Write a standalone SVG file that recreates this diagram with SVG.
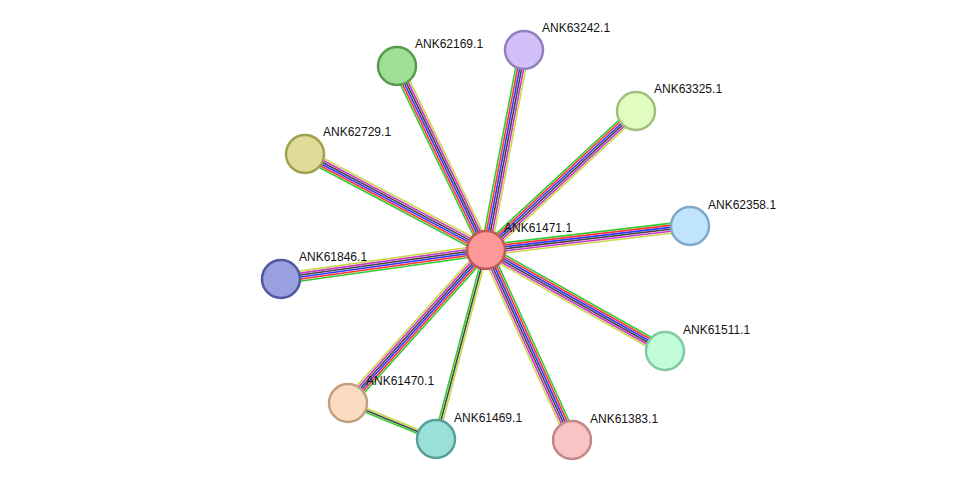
<svg xmlns="http://www.w3.org/2000/svg" width="975" height="486" viewBox="0 0 975 486">
<style>
line{stroke-width:1.6}
.g{stroke:#33cc33}.r{stroke:#ff3333}.b{stroke:#3333ff}.k{stroke:#444}.m{stroke:#cc33cc}.y{stroke:#c8d84a}
circle{stroke-width:2.5}
text{font-family:"Liberation Sans",Arial,sans-serif;font-size:12px;fill:#111}
</style>
<rect width="975" height="486" fill="#fff"/>
<g id="edges">
<g transform="translate(486,250) rotate(-115.8)"><line x2="204" y1="-5" y2="-5" class="g"/><line x2="204" y1="-3" y2="-3" class="r"/><line x2="204" y1="-1" y2="-1" class="b"/><line x2="204" y1="1" y2="1" class="k"/><line x2="204" y1="3" y2="3" class="m"/><line x2="204" y1="5" y2="5" class="y"/></g>
<g transform="translate(486,250) rotate(-79.2)"><line x2="204" y1="-5" y2="-5" class="g"/><line x2="204" y1="-3" y2="-3" class="r"/><line x2="204" y1="-1" y2="-1" class="b"/><line x2="204" y1="1" y2="1" class="k"/><line x2="204" y1="3" y2="3" class="m"/><line x2="204" y1="5" y2="5" class="y"/></g>
<g transform="translate(486,250) rotate(-42.8)"><line x2="205" y1="-5" y2="-5" class="g"/><line x2="205" y1="-3" y2="-3" class="r"/><line x2="205" y1="-1" y2="-1" class="b"/><line x2="205" y1="1" y2="1" class="k"/><line x2="205" y1="3" y2="3" class="m"/><line x2="205" y1="5" y2="5" class="y"/></g>
<g transform="translate(486,250) rotate(-152.1)"><line x2="205" y1="-5" y2="-5" class="g"/><line x2="205" y1="-3" y2="-3" class="r"/><line x2="205" y1="-1" y2="-1" class="b"/><line x2="205" y1="1" y2="1" class="k"/><line x2="205" y1="3" y2="3" class="m"/><line x2="205" y1="5" y2="5" class="y"/></g>
<g transform="translate(486,250) rotate(-6.7)"><line x2="205" y1="-5" y2="-5" class="g"/><line x2="205" y1="-3" y2="-3" class="r"/><line x2="205" y1="-1" y2="-1" class="b"/><line x2="205" y1="1" y2="1" class="k"/><line x2="205" y1="3" y2="3" class="m"/><line x2="205" y1="5" y2="5" class="y"/></g>
<g transform="translate(486,250) rotate(172)"><line x2="207" y1="-5" y2="-5" class="g"/><line x2="207" y1="-3" y2="-3" class="r"/><line x2="207" y1="-1" y2="-1" class="b"/><line x2="207" y1="1" y2="1" class="k"/><line x2="207" y1="3" y2="3" class="m"/><line x2="207" y1="5" y2="5" class="y"/></g>
<g transform="translate(486,250) rotate(29.4)"><line x2="205" y1="-5" y2="-5" class="g"/><line x2="205" y1="-3" y2="-3" class="r"/><line x2="205" y1="-1" y2="-1" class="b"/><line x2="205" y1="1" y2="1" class="k"/><line x2="205" y1="3" y2="3" class="m"/><line x2="205" y1="5" y2="5" class="y"/></g>
<g transform="translate(486,250) rotate(132)"><line x2="206" y1="-5" y2="-5" class="g"/><line x2="206" y1="-3" y2="-3" class="r"/><line x2="206" y1="-1" y2="-1" class="b"/><line x2="206" y1="1" y2="1" class="k"/><line x2="206" y1="3" y2="3" class="m"/><line x2="206" y1="5" y2="5" class="y"/></g>
<g transform="translate(486,250) rotate(104.8)"><line x2="195" y1="-2" y2="-2" class="y"/><line x2="195" y1="0" y2="0" class="k"/><line x2="195" y1="2" y2="2" class="g"/></g>
<g transform="translate(486,250) rotate(65.6)"><line x2="209" y1="-5" y2="-5" class="g"/><line x2="209" y1="-3" y2="-3" class="r"/><line x2="209" y1="-1" y2="-1" class="b"/><line x2="209" y1="1" y2="1" class="k"/><line x2="209" y1="3" y2="3" class="m"/><line x2="209" y1="5" y2="5" class="y"/></g>
<g transform="translate(348,403) rotate(22.2)"><line x2="95" y1="-2" y2="-2" class="y"/><line x2="95" y1="0" y2="0" class="k"/><line x2="95" y1="2" y2="2" class="g"/></g>
</g>
<g id="n62169"><circle cx="397" cy="66" r="19" fill="#a0e095" stroke="#5a9a50"/><text x="415" y="48">ANK62169.1</text></g>
<g id="n63242"><circle cx="524" cy="50" r="19" fill="#d4c0f8" stroke="#9080c0"/><text x="542" y="32">ANK63242.1</text></g>
<g id="n63325"><circle cx="636" cy="111" r="19" fill="#e0fcc0" stroke="#a0c080"/><text x="654" y="93">ANK63325.1</text></g>
<g id="n62729"><circle cx="305" cy="154" r="19" fill="#e0dc98" stroke="#a0a050"/><text x="323" y="136">ANK62729.1</text></g>
<g id="n62358"><circle cx="690" cy="226" r="19" fill="#c0e4fc" stroke="#80a8c8"/><text x="708" y="209">ANK62358.1</text></g>
<g id="n61846"><circle cx="281" cy="279" r="19" fill="#98a0e0" stroke="#5058a0"/><text x="299" y="261">ANK61846.1</text></g>
<g id="n61511"><circle cx="665" cy="351" r="19" fill="#c0fcd8" stroke="#80c8a0"/><text x="683" y="334">ANK61511.1</text></g>
<g id="n61470"><circle cx="348" cy="403" r="19" fill="#fcdcc0" stroke="#c0a080"/><text x="366" y="385">ANK61470.1</text></g>
<g id="n61469"><circle cx="436" cy="439" r="19" fill="#98e0d8" stroke="#58a098"/><text x="454" y="422">ANK61469.1</text></g>
<g id="n61383"><circle cx="572" cy="440" r="19" fill="#f8c4c4" stroke="#c08888"/><text x="590" y="423">ANK61383.1</text></g>
<g id="n61471"><circle cx="486" cy="250" r="19" fill="#fc9898" stroke="#c05858"/><text x="504" y="232">ANK61471.1</text></g>
</svg>
